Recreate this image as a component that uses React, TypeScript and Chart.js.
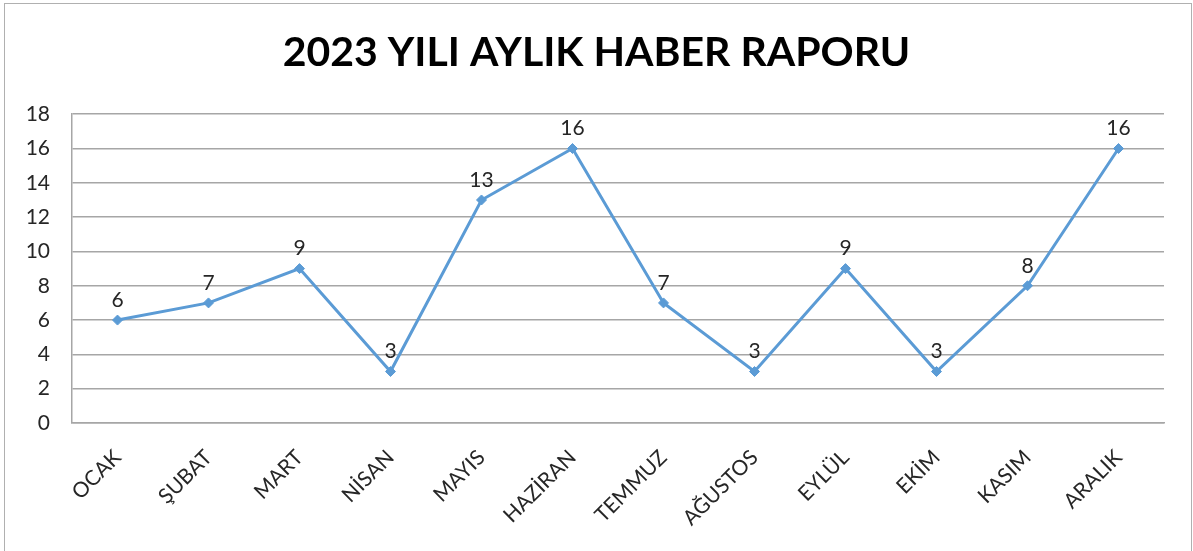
import React, { useEffect, useRef } from "react";
import { Chart, registerables } from "chart.js";

Chart.register(...registerables);

const months = ["OCAK", "ŞUBAT", "MART", "NİSAN", "MAYIS", "HAZİRAN", "TEMMUZ", "AĞUSTOS", "EYLÜL", "EKİM", "KASIM", "ARALIK"];
const newsCounts = [6, 7, 9, 3, 13, 16, 7, 3, 9, 3, 8, 16];
const yTicks = [0, 2, 4, 6, 8, 10, 12, 14, 16, 18];
const titleText = "2023 YILI AYLIK HABER RAPORU";

const FONT = "Lato, 'Open Sans', sans-serif";

const valueLabels = {
  id: "valueLabels",
  afterDatasetsDraw(chart: any) {
    const ctx = chart.ctx;
    const meta = chart.getDatasetMeta(0);
    ctx.save();
    ctx.font = `21px ${FONT}`;
    ctx.fillStyle = "#262626";
    ctx.textAlign = "center";
    ctx.textBaseline = "middle";
    meta.data.forEach((pt: any, i: number) => {
      ctx.fillText(String(newsCounts[i]), pt.x, pt.y - 20);
    });
    ctx.restore();
  },
};

export default function App() {
  const ref = useRef<HTMLCanvasElement | null>(null);
  useEffect(() => {
    if (!ref.current) return;
    const chart = new Chart(ref.current, {
      type: "line",
      data: {
        labels: months,
        datasets: [
          {
            data: newsCounts,
            borderColor: "#5B9BD5",
            backgroundColor: "#5B9BD5",
            borderWidth: 3,
            pointStyle: "rectRot",
            pointRadius: 5,
            pointBorderWidth: 1,
            tension: 0,
          },
        ],
      },
      options: {
        animation: false,
        responsive: true,
        maintainAspectRatio: false,
        layout: { padding: { left: 0, right: 0, top: 0, bottom: 0 } },
        plugins: {
          legend: { display: false },
          tooltip: { enabled: false },
          title: {
            display: true,
            text: titleText,
            color: "#000000",
            font: { family: FONT, size: 41, weight: "bold", lineHeight: 1.2 },
            padding: { top: 28, bottom: 37 },
          },
        },
        scales: {
          x: {
            offset: true,
            grid: { display: false, drawTicks: false },
            border: { display: true, color: "#a6a6a6", width: 1.5 },
            ticks: {
              color: "#262626",
              font: { family: FONT, size: 21 },
              maxRotation: 45,
              minRotation: 45,
              padding: 22,
              autoSkip: false,
            },
            afterFit: (s: any) => {
              s.height = 128;
            },
          },
          y: {
            min: 0,
            max: 18,
            afterBuildTicks: (s: any) => {
              s.ticks = yTicks.map((v) => ({ value: v }));
            },
            grid: { color: "#a6a6a6", lineWidth: 1.5, drawTicks: false },
            border: { display: true, color: "#a6a6a6", width: 1.5 },
            ticks: {
              color: "#262626",
              font: { family: FONT, size: 21 },
              padding: 22,
            },
            afterFit: (s: any) => {
              s.width = 72;
            },
          },
          spacer: {
            type: "linear",
            position: "right",
            display: true,
            grid: { display: false, drawTicks: false },
            border: { display: false },
            ticks: { display: false },
            afterFit: (s: any) => {
              s.width = 29;
            },
          },
        },
      },
      plugins: [valueLabels],
    });
    return () => chart.destroy();
  }, []);

  return (
    <div style={{ position: "fixed", left: 0, top: 0, width: 1193, height: 551, background: "#ffffff" }}>
      <div
        style={{
          position: "absolute",
          left: 4,
          top: 3,
          width: 1188,
          height: 560,
          border: "1px solid #b0b0b0",
          boxSizing: "border-box",
        }}
      />
      <div style={{ position: "absolute", left: 0, top: 0, width: 1193, height: 551 }}>
        <canvas ref={ref} />
      </div>
    </div>
  );
}
